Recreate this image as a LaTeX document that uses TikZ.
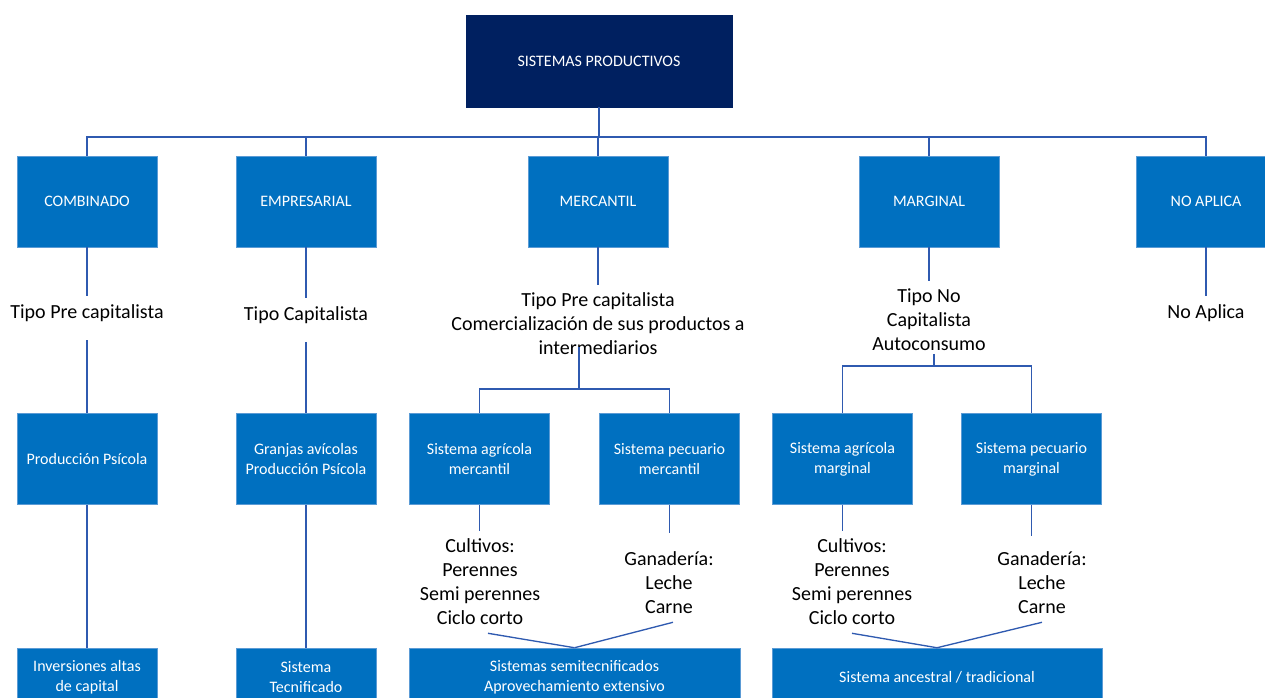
\documentclass[tikz,border=0pt]{standalone}
\usepackage{fontspec}
\setmainfont{Carlito}
\usetikzlibrary{positioning}
\definecolor{navy}{HTML}{002060}
\definecolor{boxblue}{HTML}{0070C0}
\definecolor{boxedge}{HTML}{5B9BD5}
\definecolor{linkblue}{HTML}{2F5AB0}

\begin{document}
\begin{tikzpicture}[
  x=0.75pt, y=-0.75pt,
  box/.style={rectangle, fill=boxblue, draw=boxedge, line width=0.4pt,
              minimum width=105pt, minimum height=68.5pt, inner sep=2pt,
              align=center, text=white, font=\fontsize{12}{15}\selectfont},
  lbl/.style={align=center, inner xsep=0pt, inner ysep=6pt,
              font=\fontsize{15}{18}\selectfont},
  link/.style={draw=linkblue, line width=1pt}
]
\useasboundingbox (0,0) rectangle (1265,697);
\clip (0,0) rectangle (1265,697);

% top
\node[box, fill=navy, draw=navy, minimum width=199.5pt, minimum height=69pt] (sist) at (599,61) {SISTEMAS PRODUCTIVOS};

% first level
\node[box] (comb) at (87,201.5) {COMBINADO};
\node[box] (empr) at (306,201.5) {EMPRESARIAL};
\node[box] (merc) at (598,201.5) {MERCANTIL};
\node[box] (marg) at (929,201.5) {MARGINAL};
\node[box] (noap) at (1206,201.5) {NO APLICA};

\node[lbl] (tcomb) at (87,313) {Tipo Pre capitalista};
\node[lbl] (tempr) at (306,315) {Tipo Capitalista};
\node[lbl] (tmerc) at (598,324) {Tipo Pre capitalista\\Comercialización de sus productos a\\intermediarios};
\node[lbl] (tmarg) at (929,320) {Tipo No\\Capitalista\\Autoconsumo};
\node[lbl] (tnoap) at (1206,313) {No Aplica};

% second level
\node[box] (pcomb) at (87,459) {Producción Psícola};
\node[box] (pempr) at (306,459) {Granjas avícolas\\Producción Psícola};
\node[box] (agrme) at (479.5,459) {Sistema agrícola\\mercantil};
\node[box] (pecme) at (669.5,459) {Sistema pecuario\\mercantil};
\node[box] (agrma) at (842.5,459) {Sistema agrícola\\marginal};
\node[box] (pecma) at (1031.5,459) {Sistema pecuario\\marginal};

\node[lbl] (cultme) at (480,582) {Cultivos:\\Perennes\\Semi perennes\\Ciclo corto};
\node[lbl] (ganme) at (669,583) {Ganadería:\\Leche\\Carne};
\node[lbl] (cultma) at (852,582) {Cultivos:\\Perennes\\Semi perennes\\Ciclo corto};
\node[lbl] (ganma) at (1042,583) {Ganadería:\\Leche\\Carne};

% bottom
\node[box, minimum height=43.5pt] (bcomb) at (87,677) {Inversiones altas\\de capital};
\node[box, minimum height=43.5pt] (bempr) at (306,677) {Sistema\\Tecnificado};
\node[box, minimum height=43.5pt, minimum width=248.25pt] (bmerc) at (574.5,677) {Sistemas semitecnificados\\Aprovechamiento extensivo};
\node[box, minimum height=43.5pt, minimum width=247.5pt] (bmarg) at (937,677) {Sistema ancestral / tradicional};

\coordinate (bus) at (599,137);
\coordinate (mbus) at (579,389);
\coordinate (gbus) at (934,366);

% connectors
\draw[link] (sist.south) -- (bus);
\foreach \n in {comb,empr,merc,marg,noap}
  \draw[link] (bus) -| (\n.north);

\draw[link] (comb.south) -- (tcomb.north);
\draw[link] (empr.south) -- (tempr.north);
\draw[link] (merc.south) -- (tmerc.north);
\draw[link] (marg.south) -- (tmarg.north);
\draw[link] (noap.south) -- (tnoap.north);

\draw[link, shorten <=8pt] (tcomb.south) -- (pcomb.north);
\draw[link, shorten <=7.5pt] (tempr.south) -- (pempr.north);
\draw[link] ([yshift=12pt]tmerc.south -| mbus) -- (mbus);
\draw[link] (agrme.north) |- (mbus) -| (pecme.north);
\draw[link] ([yshift=4pt]tmarg.south -| gbus) -- (gbus);
\draw[link] (agrma.north) |- (gbus) -| (pecma.north);

\draw[link] (pcomb.south) -- (bcomb.north);
\draw[link] (pempr.south) -- (bempr.north);

\draw[link] (agrme.south) -- (agrme.south |- cultme.north);
\draw[link, shorten >=8pt] (pecme.south) -- (pecme.south |- ganme.north);
\draw[link] (agrma.south) -- (agrma.south |- cultma.north);
\draw[link, shorten >=6pt] (pecma.south) -- (pecma.south |- ganma.north);

\draw[link] ([xshift=6pt]cultme.south) -- (bmerc.north);
\draw[link] ([xshift=3pt]ganme.south) -- (bmerc.north);
\draw[link] (cultma.south) -- (bmarg.north);
\draw[link] (ganma.south) -- (bmarg.north);
\end{tikzpicture}
\end{document}
